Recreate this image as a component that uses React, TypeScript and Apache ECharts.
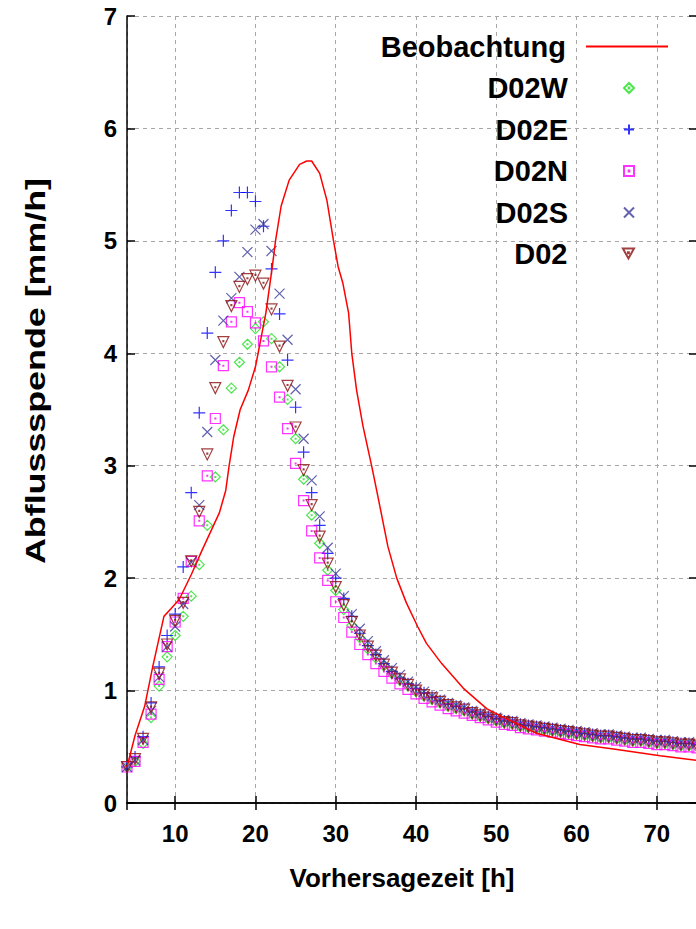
import React, { useEffect, useRef } from "react";
import * as echarts from "echarts";

// ---- data ----
const hours = [
  4, 5, 6, 7, 8, 9, 10, 11,
  12, 13, 14, 15, 16, 17, 18, 19, 20, 21,
  22, 23, 24, 25, 26, 27, 28, 29, 30, 31,
  32, 33, 34, 35, 36, 37, 38, 39, 40, 41,
  42, 43, 44, 45, 46, 47, 48, 49, 50, 51,
  52, 53, 54, 55, 56, 57, 58, 59, 60, 61,
  62, 63, 64, 65, 66, 67, 68, 69, 70, 71,
  72, 73, 74, 75,
];

const d02w = [
  0.32, 0.37, 0.53, 0.76, 1.04, 1.3, 1.49, 1.66,
  1.84, 2.12, 2.47, 2.9, 3.32, 3.69, 3.92, 4.08, 4.22, 4.28,
  4.13, 3.88, 3.59, 3.24, 2.88, 2.56, 2.31, 2.07, 1.89, 1.72,
  1.58, 1.47, 1.37, 1.29, 1.22, 1.15, 1.09, 1.04, 0.99, 0.95,
  0.92, 0.89, 0.86, 0.84, 0.82, 0.79, 0.77, 0.75, 0.73, 0.71,
  0.7, 0.68, 0.67, 0.66, 0.65, 0.64, 0.63, 0.62, 0.61, 0.6,
  0.59, 0.58, 0.58, 0.57, 0.56, 0.55, 0.55, 0.54, 0.53, 0.53,
  0.52, 0.51, 0.51, 0.5,
];

const d02e = [
  0.32, 0.41, 0.59, 0.89, 1.21, 1.49, 1.68, 2.1,
  2.76, 3.47, 4.18, 4.72, 5.0, 5.27, 5.43, 5.43, 5.35, 5.13,
  4.75, 4.35, 3.94, 3.52, 3.12, 2.76, 2.47, 2.22, 2.0, 1.82,
  1.66, 1.51, 1.4, 1.32, 1.24, 1.17, 1.11, 1.06, 1.02, 0.98,
  0.94, 0.91, 0.88, 0.86, 0.84, 0.81, 0.79, 0.77, 0.75, 0.73,
  0.72, 0.7, 0.69, 0.68, 0.67, 0.66, 0.65, 0.64, 0.63, 0.62,
  0.61, 0.6, 0.6, 0.59, 0.58, 0.57, 0.57, 0.56, 0.55, 0.55,
  0.54, 0.53, 0.53, 0.52,
];

const d02n = [
  0.32, 0.37, 0.54, 0.79, 1.1, 1.39, 1.61, 1.82,
  2.15, 2.51, 2.91, 3.42, 3.89, 4.28, 4.45, 4.37, 4.27, 4.11,
  3.88, 3.61, 3.33, 3.02, 2.69, 2.42, 2.18, 1.98, 1.79, 1.65,
  1.52, 1.41, 1.32, 1.24, 1.17, 1.11, 1.06, 1.01, 0.97, 0.93,
  0.9, 0.87, 0.84, 0.82, 0.8, 0.78, 0.76, 0.74, 0.72, 0.7,
  0.69, 0.67, 0.66, 0.65, 0.64, 0.63, 0.62, 0.61, 0.6, 0.59,
  0.58, 0.57, 0.57, 0.56, 0.55, 0.54, 0.54, 0.53, 0.52, 0.52,
  0.51, 0.5, 0.5, 0.49,
];

const d02s = [
  0.32, 0.38, 0.56, 0.82, 1.12, 1.39, 1.57, 1.77,
  2.14, 2.65, 3.3, 3.94, 4.29, 4.49, 4.68, 4.9, 5.1, 5.15,
  4.91, 4.53, 4.12, 3.68, 3.24, 2.87, 2.55, 2.27, 2.04, 1.84,
  1.68, 1.55, 1.44, 1.35, 1.27, 1.2, 1.14, 1.08, 1.03, 0.99,
  0.95, 0.92, 0.89, 0.87, 0.85, 0.82, 0.8, 0.78, 0.76, 0.74,
  0.73, 0.71, 0.7, 0.69, 0.68, 0.67, 0.66, 0.65, 0.64, 0.63,
  0.62, 0.61, 0.61, 0.6, 0.59, 0.58, 0.58, 0.57, 0.56, 0.56,
  0.55, 0.54, 0.54, 0.53,
];

const d02 = [
  0.32, 0.39, 0.57, 0.85, 1.15, 1.41, 1.62, 1.78,
  2.15, 2.59, 3.1, 3.69, 4.1, 4.42, 4.59, 4.66, 4.69, 4.62,
  4.39, 4.06, 3.71, 3.34, 2.96, 2.65, 2.37, 2.13, 1.92, 1.76,
  1.61, 1.49, 1.39, 1.31, 1.23, 1.16, 1.1, 1.05, 1.0, 0.96,
  0.93, 0.9, 0.87, 0.85, 0.83, 0.8, 0.78, 0.76, 0.74, 0.72,
  0.71, 0.69, 0.68, 0.67, 0.66, 0.65, 0.64, 0.63, 0.62, 0.61,
  0.6, 0.59, 0.59, 0.58, 0.57, 0.56, 0.56, 0.55, 0.54, 0.54,
  0.53, 0.52, 0.52, 0.51,
];

const obsX = [
  4, 5, 6.2, 7.2, 8.6, 9.5, 10.5, 12, 13.3, 15.5, 16.3, 16.7, 17.3, 18.1,
  19.1, 20, 21.3, 22.1, 22.5, 23.2, 24.2, 25.5, 26.4, 27, 28, 28.9, 29.7,
  30.3, 30.9, 31.3, 31.6, 32, 32.6, 33.4, 34.5, 35.3, 36.5, 37.6, 38.8,
  40.2, 41.3, 43.2, 45.9, 48.8, 50.4, 55, 60.4, 64.6, 70.4, 75,
];
const obsY = [
  0.32, 0.6, 0.86, 1.21, 1.66, 1.73, 1.81, 2.03, 2.24, 2.58, 2.78, 2.99, 3.26, 3.5,
  3.67, 3.88, 4.36, 4.77, 5.0, 5.31, 5.54, 5.68, 5.71, 5.71, 5.6, 5.36, 5.01,
  4.77, 4.62, 4.47, 4.36, 4.0, 3.67, 3.35, 2.99, 2.71, 2.28, 2.0, 1.78,
  1.57, 1.42, 1.24, 1.02, 0.84, 0.78, 0.62, 0.52, 0.48, 0.42, 0.38,
];

const seriesNames = ["Beobachtung", "D02W", "D02E", "D02N", "D02S", "D02"];
const yTitle = "Abflussspende [mm/h]";
const xTitle = "Vorhersagezeit [h]";

const FONT = "'Liberation Sans', Arial, Helvetica, sans-serif";

const SYM = {
  diamond: "path://M5 0 L10 5 L5 10 L0 5 Z M4.6 4.6 L5.4 4.6 L5.4 5.4 L4.6 5.4 Z",
  plus: "path://M0 5 L10 5 M5 0 L5 10",
  square: "path://M0 0 L10 0 L10 10 L0 10 Z M4.6 4.6 L5.4 4.6 L5.4 5.4 L4.6 5.4 Z",
  cross: "path://M0 0 L10 10 M10 0 L0 10",
  tri: "path://M0 0 L10 0 L5 9 Z M4.6 3.4 L5.4 3.4 L5.4 4.2 L4.6 4.2 Z",
};

function pairs(xs: number[], ys: number[]) {
  return xs.map((x, i) => [x, ys[i]]);
}

function scatter(name: string, ys: number[], symbol: string, color: string, size: number) {
  return {
    name,
    type: "scatter",
    data: pairs(hours, ys),
    symbol,
    symbolSize: size,
    itemStyle: { color: "rgba(0,0,0,0)", borderColor: color, borderWidth: 1.2 },
    emphasis: { disabled: true },
  };
}

const legendCenters = [46.5, 88, 129.5, 171, 212.5, 253.5];

export default function App() {
  const ref = useRef<HTMLDivElement>(null);
  useEffect(() => {
    document.body.style.margin = "0";
    const chart = echarts.init(ref.current!, null, { renderer: "svg" });
    const gridLine = { show: true, lineStyle: { color: "#a8a8a8", type: [4, 4], width: 1 } };
    const axisLineStyle = { show: true, lineStyle: { color: "#000", width: 1.5 } };
    const labelStyle = { fontFamily: FONT, fontWeight: "bold", fontSize: 24, color: "#000" };
    const legendText = {
      fontFamily: FONT,
      fontWeight: "bold",
      fontSize: 29,
      color: "#000",
      lineHeight: 32,
      padding: [0, 15, 0, 0],
    };
    const legends = seriesNames.map((n, i) =>
      i === 0
        ? {
            data: [{ name: n, icon: "rect" }],
            right: 32,
            top: legendCenters[i] - 16,
            orient: "vertical",
            align: "right",
            padding: 0,
            itemWidth: 82,
            itemHeight: 2,
            selectedMode: false,
            textStyle: legendText,
          }
        : {
            data: [n],
            right: 65,
            top: legendCenters[i] - 16,
            orient: "vertical",
            align: "right",
            padding: 0,
            itemWidth: 82,
            itemHeight: 10,
            selectedMode: false,
            textStyle: legendText,
          }
    );
    const option: any = {
      animation: false,
      backgroundColor: "#fff",
      grid: { left: 127, top: 16, right: 3, bottom: 126, containLabel: false },
      xAxis: [
        {
          type: "value",
          position: "bottom",
          min: 4,
          max: 75,
          splitNumber: 7,
          axisLine: axisLineStyle,
          axisTick: { show: true, inside: true, length: 7, lineStyle: { color: "#000", width: 1.5 } },
          axisLabel: { ...labelStyle, margin: 18, showMinLabel: false, showMaxLabel: false },
          splitLine: gridLine,
          name: xTitle,
          nameLocation: "middle",
          nameGap: 62,
          nameTextStyle: { fontFamily: FONT, fontWeight: "bold", fontSize: 26, color: "#000", padding: [0, 20, 0, 0] },
        },
        {
          type: "value",
          position: "top",
          min: 4,
          max: 75,
          splitNumber: 7,
          axisLine: axisLineStyle,
          axisTick: { show: true, inside: true, length: 7, lineStyle: { color: "#000", width: 1.5 } },
          axisLabel: { show: false },
          splitLine: { show: false },
        },
      ],
      yAxis: [
        {
          type: "value",
          position: "left",
          min: 0,
          max: 7,
          interval: 1,
          axisLine: axisLineStyle,
          axisTick: { show: true, inside: true, length: 8, lineStyle: { color: "#000", width: 1.5 } },
          axisLabel: { ...labelStyle, margin: 10 },
          splitLine: gridLine,
        },
        {
          type: "value",
          position: "right",
          min: 0,
          max: 7,
          interval: 1,
          axisLine: axisLineStyle,
          axisTick: { show: true, inside: true, length: 8, lineStyle: { color: "#000", width: 1.5 } },
          axisLabel: { show: false },
          splitLine: { show: false },
        },
      ],
      legend: legends,
      graphic: [
        {
          type: "text",
          x: 35,
          y: 371,
          rotation: Math.PI / 2,
          scaleX: 1.28,
          style: {
            text: yTitle,
            fontFamily: FONT,
            fontWeight: "bold",
            fontSize: 28,
            fill: "#000",
            align: "center",
            verticalAlign: "middle",
          },
        },
      ],
      series: [
        {
          name: "Beobachtung",
          type: "line",
          data: pairs(obsX, obsY),
          symbol: "none",
          lineStyle: { color: "#ff0000", width: 1.5 },
          itemStyle: { color: "#ff0000" },
          emphasis: { disabled: true },
        },
        scatter("D02W", d02w, SYM.diamond, "#22e022", 10),
        scatter("D02E", d02e, SYM.plus, "#0000ff", 12),
        scatter("D02N", d02n, SYM.square, "#ff00ff", 10),
        scatter("D02S", d02s, SYM.cross, "#3a3a9a", 10),
        scatter("D02", d02, SYM.tri, "#8b1010", 11),
      ],
    };
    chart.setOption(option);
    return () => chart.dispose();
  }, []);
  return (
    <div
      style={{
        position: "fixed",
        left: 0,
        top: 0,
        width: 696,
        height: 929,
        overflow: "hidden",
        background: "#fff",
      }}
    >
      <div ref={ref} style={{ width: 700, height: 929 }} />
    </div>
  );
}
